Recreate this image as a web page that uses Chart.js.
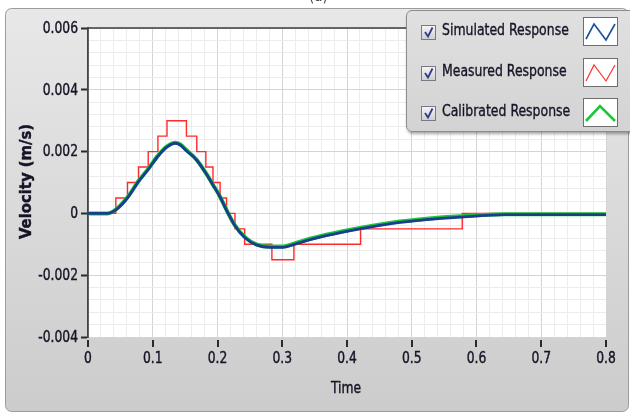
<!DOCTYPE html>
<html>
<head>
<meta charset="utf-8">
<script src="https://cdn.jsdelivr.net/npm/chart.js@4.4.0/dist/chart.umd.min.js"></script>
<style>
  html, body { margin: 0; padding: 0; background: #fff; }
  #wrap { position: relative; width: 630px; height: 415px; overflow: hidden; }
  #chart { position: absolute; left: 0; top: 0; }
  .ui { font-family: "DejaVu Sans Condensed", "DejaVu Sans", sans-serif; color: #141426; }
  #caption { position: absolute; left: 309px; top: -13px; font-size: 15px; color: #444; }
  #legend {
    position: absolute; left: 406px; top: 10px; width: 232px; height: 120px;
    background: linear-gradient(#e0e0e0, #d3d3d3);
    border: 1px solid #8c8c8c; border-radius: 6px;
    box-shadow: 1px 2px 3px rgba(0, 0, 0, 0.35);
  }
  .row { position: absolute; left: 0; width: 232px; height: 30px; }
  .box {
    position: absolute; left: 14px; top: 8px; width: 13px; height: 13px;
    background: linear-gradient(#f4f4f4, #cfcfcf); border: 1px solid #7a7a86;
  }
  .box svg { position: absolute; left: 0; top: 0; }
  .label {
    position: absolute; left: 35px; top: 3px; font-size: 16.5px; white-space: nowrap;
    transform: scaleX(0.84); transform-origin: 0 50%;
    -webkit-text-stroke: 0.35px #141426;
  }
  .swatch {
    position: absolute; left: 176px; top: 0px; width: 33px; height: 27px;
    background: #fff; border: 1px solid #6e6e6e;
  }
  .swatch svg { position: absolute; left: 0; top: 0; }
</style>
</head>
<body>
<div id="wrap">
  <canvas id="chart" width="630" height="415"></canvas>
  <div id="caption" class="ui">(a)</div>
  <div id="legend" class="ui"></div>
</div>
<script>
// Simulated response (blue)
const simTime = [0, 0.03, 0.045, 0.061, 0.078, 0.093, 0.108, 0.122, 0.135, 0.142, 0.152, 0.168,
  0.182, 0.193, 0.204, 0.214, 0.227, 0.242, 0.26, 0.282, 0.301, 0.319, 0.343, 0.368, 0.42,
  0.471, 0.523, 0.574, 0.643, 0.8];
const simVelocity = [0, 0, 0.00015, 0.0005, 0.00103, 0.00142, 0.00185, 0.00215, 0.00227, 0.00222,
  0.00203, 0.00172, 0.0013, 0.00092, 0.00053, 0.0001, -0.0004, -0.00078, -0.00102, -0.0011,
  -0.0011, -0.001, -0.00085, -0.00072, -0.0005, -0.00032, -0.0002, -0.00012, -0.00004, -0.00004];

// Calibrated response (green), sits just above the simulated one
const calTime = [0, 0.03, 0.045, 0.061, 0.078, 0.093, 0.108, 0.122, 0.135, 0.142, 0.152, 0.168,
  0.182, 0.193, 0.204, 0.214, 0.227, 0.242, 0.26, 0.282, 0.301, 0.319, 0.343, 0.368, 0.42,
  0.471, 0.523, 0.574, 0.643, 0.8];
const calVelocity = [0, 0, 0.00016, 0.00052, 0.00105, 0.00144, 0.00187, 0.00217, 0.00229, 0.00224,
  0.00205, 0.00173, 0.00131, 0.00093, 0.00054, 0.00011, -0.00039, -0.00076, -0.001, -0.00107,
  -0.00107, -0.00097, -0.00082, -0.00069, -0.00047, -0.00029, -0.00017, -0.00009, -0.00003, -0.00003];

// Measured response (red), value holds from each time until the next one
const measTime = [0, 0.043, 0.061, 0.078, 0.093, 0.108, 0.122, 0.152, 0.168, 0.182, 0.193, 0.204,
  0.214, 0.227, 0.242, 0.284, 0.318, 0.421, 0.578, 0.8];
const measVelocity = [0, 0.0005, 0.001, 0.0015, 0.002, 0.0025, 0.003, 0.0025, 0.002, 0.0015, 0.001,
  0.0005, 0, -0.0005, -0.001, -0.0015, -0.001, -0.0005, 0, 0];

const xTickLabels = ['0', '0.1', '0.2', '0.3', '0.4', '0.5', '0.6', '0.7', '0.8'];
const yTickLabels = ['-0.004', '-0.002', '0', '0.002', '0.004', '0.006'];

const legendItems = [
  { text: 'Simulated Response', color: '#1d4f9c', width: 1.6, pts: '2,21 10,6 22,22 31,6' },
  { text: 'Measured Response', color: '#ff3030', width: 1.2, pts: '2,22 10,6 22,22 31,6' },
  { text: 'Calibrated Response', color: '#18c83a', width: 2.6, pts: '2,22 16,7 31,22' }
];

const FONT = '"DejaVu Sans Condensed", "DejaVu Sans", sans-serif';
const TEXT = '#141426';

function pairs(xs, ys) {
  return xs.map((x, i) => ({ x: x, y: ys[i] }));
}

// the panel font is narrower than DejaVu condensed, so squeeze it a bit
function narrowText(ctx, text, x, y, align, squeeze) {
  ctx.save();
  ctx.translate(x, y);
  ctx.scale(squeeze, 1);
  ctx.textAlign = align;
  ctx.lineWidth = 0.4;
  ctx.strokeStyle = TEXT;
  ctx.strokeText(text, 0, 0);
  ctx.fillText(text, 0, 0);
  ctx.restore();
}

// legend panel with checkboxes and line swatches
const legendEl = document.getElementById('legend');
legendItems.forEach((item, i) => {
  const row = document.createElement('div');
  row.className = 'row';
  row.style.top = (6 + i * 40.5) + 'px';
  row.innerHTML =
    '<div class="box"><svg width="13" height="13"><path d="M3 6 L6 10.5 L10.5 1.5" fill="none" stroke="#2a3a8c" stroke-width="1.8"/></svg></div>' +
    '<div class="label">' + item.text + '</div>' +
    '<div class="swatch"><svg width="33" height="27"><polyline points="' + item.pts +
    '" fill="none" stroke="' + item.color + '" stroke-width="' + item.width + '"/></svg></div>';
  legendEl.appendChild(row);
});

// grey panel behind the graph, white plot area, frame, tick marks and labels
const panelPlugin = {
  id: 'panel',
  beforeDraw(chart) {
    const ctx = chart.ctx;
    const a = chart.chartArea;
    ctx.save();
    ctx.fillStyle = '#fff';
    ctx.fillRect(0, 0, chart.width, chart.height);
    const g = ctx.createLinearGradient(0, 8, 0, 412);
    g.addColorStop(0, '#e8e8e8');
    g.addColorStop(1, '#cccccc');
    ctx.beginPath();
    ctx.roundRect(5.5, 8.5, 623, 403, 6);
    ctx.fillStyle = g;
    ctx.fill();
    ctx.strokeStyle = '#9c9c9c';
    ctx.lineWidth = 1;
    ctx.stroke();
    ctx.fillStyle = '#fff';
    ctx.fillRect(a.left, a.top, a.right - a.left, a.bottom - a.top);
    ctx.restore();
  },
  afterDraw(chart) {
    const ctx = chart.ctx;
    const a = chart.chartArea;
    const xs = chart.scales.x;
    const ys = chart.scales.y;
    ctx.save();
    // top frame line
    ctx.strokeStyle = '#3c3c3c';
    ctx.lineWidth = 1.5;
    ctx.beginPath();
    ctx.moveTo(a.left, a.top);
    ctx.lineTo(a.right, a.top);
    ctx.stroke();
    // x tick marks below the plot
    ctx.strokeStyle = '#2a2a2a';
    ctx.lineWidth = 2;
    xTickLabels.forEach((lab) => {
      const px = Math.round(xs.getPixelForValue(parseFloat(lab)));
      ctx.beginPath();
      ctx.moveTo(px, a.bottom + 3);
      ctx.lineTo(px, a.bottom + 10);
      ctx.stroke();
    });
    // tick labels
    ctx.fillStyle = TEXT;
    ctx.font = '16.5px ' + FONT;
    ctx.textBaseline = 'middle';
    xTickLabels.forEach((lab) => {
      narrowText(ctx, lab, xs.getPixelForValue(parseFloat(lab)), 359, 'center', 0.83);
    });
    yTickLabels.forEach((lab) => {
      narrowText(ctx, lab, 78, ys.getPixelForValue(parseFloat(lab)) + 0.5, 'right', 0.83);
    });
    // axis titles
    narrowText(ctx, 'Time', (a.left + a.right) / 2 - 1, 389, 'center', 0.83);
    ctx.translate(27, (a.top + a.bottom) / 2 - 1);
    ctx.rotate(-Math.PI / 2);
    ctx.font = 'bold 16.5px ' + FONT;
    narrowText(ctx, 'Velocity (m/s)', 0, 0, 'center', 1);
    ctx.restore();
  }
};

new Chart(document.getElementById('chart'), {
  type: 'line',
  data: {
    datasets: [
      {
        label: 'Simulated Response',
        data: pairs(simTime, simVelocity),
        borderColor: '#173f8e',
        borderWidth: 2.8,
        cubicInterpolationMode: 'monotone',
        pointRadius: 0
      },
      {
        label: 'Calibrated Response',
        data: pairs(calTime, calVelocity),
        borderColor: '#1ec43c',
        borderWidth: 4,
        cubicInterpolationMode: 'monotone',
        pointRadius: 0
      },
      {
        label: 'Measured Response',
        data: pairs(measTime, measVelocity),
        borderColor: '#ff2a2a',
        borderWidth: 1.4,
        stepped: true,
        pointRadius: 0
      }
    ]
  },
  options: {
    responsive: false,
    animation: false,
    events: [],
    layout: { padding: { top: 28, right: 24, left: 0, bottom: 0 } },
    plugins: {
      legend: { display: false },
      tooltip: { enabled: false }
    },
    scales: {
      x: {
        type: 'linear',
        min: 0,
        max: 0.8,
        afterFit: (s) => { s.height = 78; },
        border: { display: false },
        grid: {
          drawTicks: false,
          color: (c) => (c.index % 5 === 0 ? '#d4d4d4' : '#ececec'),
          lineWidth: 1
        },
        ticks: { stepSize: 0.02, autoSkip: false, maxRotation: 0, display: false }
      },
      y: {
        type: 'linear',
        min: -0.004,
        max: 0.006,
        afterFit: (s) => { s.width = 88; },
        border: { display: true, color: '#444', width: 1.8 },
        grid: {
          drawTicks: true,
          tickLength: 7,
          tickWidth: 2,
          tickColor: (c) => (c.index % 5 === 0 ? '#2a2a2a' : 'rgba(0,0,0,0)'),
          color: (c) => (c.index % 5 === 0 ? '#d4d4d4' : '#ececec'),
          lineWidth: 1
        },
        ticks: { stepSize: 0.0004, autoSkip: false, display: false }
      }
    }
  },
  plugins: [panelPlugin]
});
</script>
</body>
</html>
